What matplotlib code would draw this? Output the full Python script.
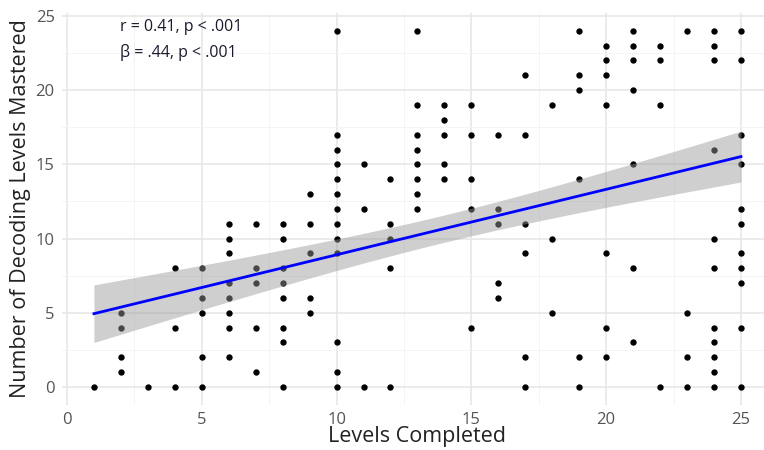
import matplotlib.pyplot as plt
import numpy as np

# levels completed -> decoding levels mastered, one list per x value
levels = [1, 2, 3, 4, 5, 6, 7, 8, 9, 10, 11, 12, 13, 14, 15, 16, 17, 18, 19, 20, 21, 22, 23, 24, 25]
mastered = [
    [0],
    [5, 4, 2, 1],
    [0],
    [8, 4, 0],
    [8, 6, 5, 2, 0],
    [11, 10, 9, 7, 6, 5, 4, 2],
    [11, 8, 7, 4, 1],
    [11, 10, 8, 7, 6, 4, 3, 0],
    [13, 11, 9, 6, 5],
    [24, 17, 16, 15, 14, 13, 12, 11, 10, 9, 3, 1, 0],
    [15, 12, 0],
    [14, 11, 10, 8, 0],
    [24, 19, 17, 16, 15, 14, 13, 12],
    [19, 18, 17, 15, 14],
    [19, 17, 14, 12, 4],
    [17, 12, 11, 7, 6],
    [21, 17, 11, 9, 2, 0],
    [19, 10, 5],
    [24, 21, 20, 14, 2, 0],
    [23, 22, 21, 19, 9, 4, 2],
    [24, 23, 22, 20, 15, 8, 3],
    [23, 22, 19, 0],
    [24, 5, 2, 0],
    [24, 23, 22, 16, 10, 8, 4, 3, 2, 1, 0],
    [24, 22, 17, 15, 12, 11, 9, 8, 7, 4, 0],
]
stats_text = ["r = 0.41, p < .001", "\u03b2 = .44, p < .001"]

# fitted line and its 95% band (overlapping points
# in the original data are not visible, so the fit can't be recomputed)
fit_intercept = 4.5
fit_slope = 0.441
ci_min_half = 0.92   # narrowest half-width of the band
ci_center = 14.0     # x where the band is narrowest
x_spread = 7.0       # sd of x used in the band formula

x = np.array([lv for lv, ys in zip(levels, mastered) for _ in ys], dtype=float)
y = np.array([v for ys in mastered for v in ys], dtype=float)

xs = np.linspace(min(levels), max(levels), 100)
fit = fit_intercept + fit_slope * xs
half = ci_min_half * np.sqrt(1 + (xs - ci_center) ** 2 / x_spread ** 2)

plt.rcParams['font.family'] = ['Open Sans', 'DejaVu Sans']
fig = plt.figure(figsize=(7.64, 4.5), dpi=100)
ax = fig.add_axes([0.0806, 0.1004, 0.9316, 0.8707])

ax.scatter(x, y, s=21, color='black', zorder=3, linewidths=0)
ax.fill_between(xs, fit - half, fit + half, color='#999999', alpha=0.47, linewidth=0, zorder=4)
ax.plot(xs, fit, color='#0000ff', linewidth=2, zorder=5)

ax.set_xlim(-0.2, 26.2)
ax.set_ylim(-1.2, 25.2)
ax.set_xticks([0, 5, 10, 15, 20, 25])
ax.set_yticks([0, 5, 10, 15, 20, 25])
ax.set_xticks(np.arange(2.5, 26, 5), minor=True)
ax.set_yticks(np.arange(2.5, 26, 5), minor=True)
ax.grid(which='major', color='#e6e6e6', linewidth=1.1)
ax.grid(which='minor', color='#f2f2f2', linewidth=0.6)
ax.set_axisbelow(True)
for sp in ax.spines.values():
    sp.set_visible(False)
ax.tick_params(which='both', length=0, labelsize=12, labelcolor='#555555', pad=5)

ax.set_xlabel("Levels Completed", fontsize=15.5, color='#222222', labelpad=-1)
ax.set_ylabel("Number of Decoding Levels Mastered", fontsize=15.5, color='#222222', labelpad=3)

ax.text(1.97, 24.26, stats_text[0], fontsize=11.5, color='#1a1a2e', va='center')
ax.text(1.97, 22.57, stats_text[1], fontsize=11.5, color='#1a1a2e', va='center')

fig.savefig("out.png", dpi=100)
